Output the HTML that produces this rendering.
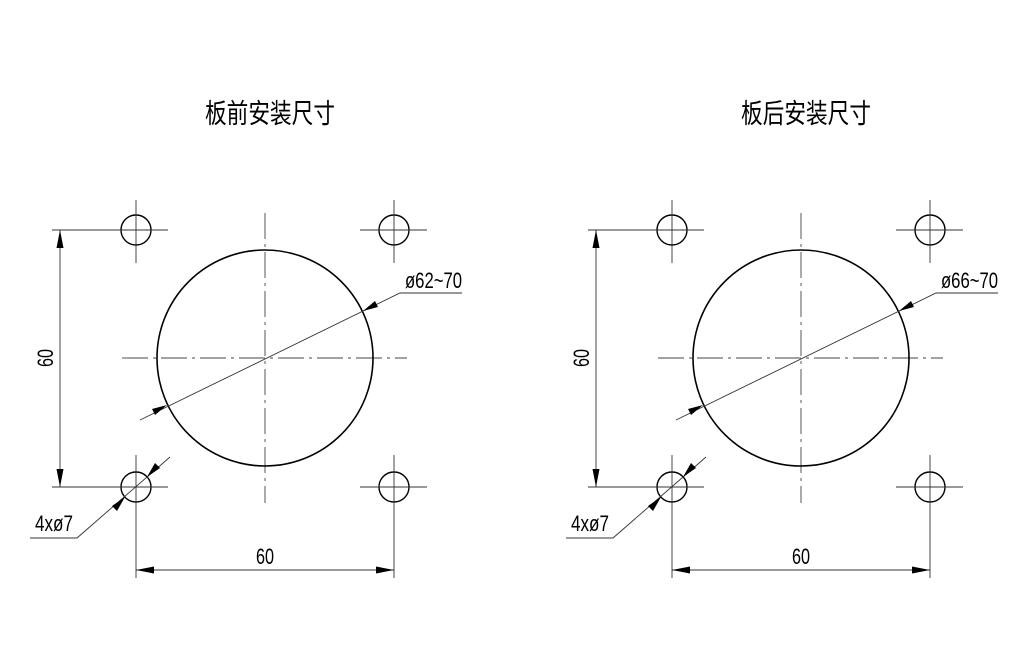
<!DOCTYPE html>
<html><head><meta charset="utf-8"><style>html,body{margin:0;padding:0;background:#fff}svg{display:block}</style></head><body>
<svg width="1018" height="652" viewBox="0 0 1018 652" xmlns="http://www.w3.org/2000/svg">
<defs>
<g id="d">
  <g stroke="#444" stroke-width="0.9" fill="none" stroke-dasharray="26,5,3,5">
    <line x1="122" y1="358" x2="407" y2="358"/>
    <line x1="265" y1="213" x2="265" y2="503"/>
  </g>
  <circle cx="265" cy="358" r="108" fill="none" stroke="#000" stroke-width="1.6"/>
  <g fill="none" stroke="#000" stroke-width="1.4">
    <circle cx="136" cy="230" r="15"/><circle cx="394" cy="230" r="15"/>
    <circle cx="136" cy="487" r="15"/><circle cx="394" cy="487" r="15"/>
  </g>
  <g stroke="#333" stroke-width="0.9">
    <line x1="52" y1="230" x2="168" y2="230"/><line x1="136" y1="200" x2="136" y2="263"/>
    <line x1="360" y1="230" x2="427" y2="230"/><line x1="394" y1="200" x2="394" y2="263"/>
    <line x1="52" y1="487" x2="168" y2="487"/><line x1="136" y1="455" x2="136" y2="578"/>
    <line x1="360" y1="487" x2="427" y2="487"/><line x1="394" y1="455" x2="394" y2="578"/>
    <line x1="60" y1="230" x2="60" y2="487"/>
    <line x1="136" y1="570" x2="394" y2="570"/>
    <polyline fill="none" points="140,420 400,293 462,293"/>
    <polyline fill="none" points="170,457 77,538 30,538"/>
  </g>
  <g fill="#000">
    <polygon points="60,230 56.5,248 63.5,248"/>
    <polygon points="60,487 56.5,469 63.5,469"/>
    <polygon points="136,570 154,566.5 154,573.5"/>
    <polygon points="394,570 376,566.5 376,573.5"/>
    <polygon points="167,405 152,409 155,415"/>
    <polygon points="363,311 378,307 375,301"/>
    <polygon points="147,477 160,468 155,463"/>
    <polygon points="125,497 112,506 117,511"/>
  </g>
  <g font-family="Liberation Sans, sans-serif" font-size="22" fill="#000">
    <text x="265" y="564" text-anchor="middle" textLength="18" lengthAdjust="spacingAndGlyphs">60</text>
    <text transform="translate(53,358) rotate(-90)" text-anchor="middle" textLength="18" lengthAdjust="spacingAndGlyphs">60</text>
    <text x="35" y="531" textLength="38" lengthAdjust="spacingAndGlyphs">4xø7</text>
  </g>
</g>
</defs>
<use href="#d"/>
<use href="#d" transform="translate(536,0)"/>
<g font-family="Liberation Sans, sans-serif" font-size="22" fill="#000">
  <text x="405" y="288" textLength="57" lengthAdjust="spacingAndGlyphs">ø62~70</text>
  <text x="941" y="288" textLength="57" lengthAdjust="spacingAndGlyphs">ø66~70</text>
</g>
<g font-family="Liberation Sans, 'Noto Sans CJK SC', sans-serif" font-size="27" fill="#000">
  <text x="205" y="123" textLength="130" lengthAdjust="spacingAndGlyphs">板前安装尺寸</text>
  <text x="741" y="123" textLength="130" lengthAdjust="spacingAndGlyphs">板后安装尺寸</text>
</g>
</svg>
</body></html>
